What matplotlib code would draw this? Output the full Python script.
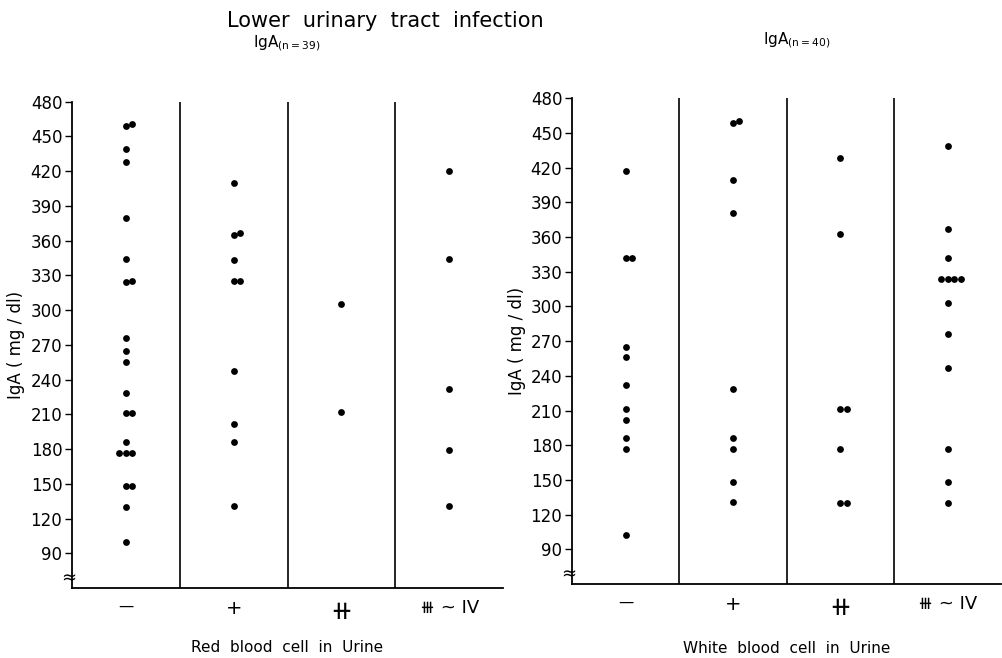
import numpy as np
import matplotlib
matplotlib.use('Agg')
import matplotlib.pyplot as plt

plt.rcParams['font.family'] = ['DejaVu Sans', 'Noto Sans']

CATEGORIES = ["\u2014", "+", "\u29FA", "\u29FB ~ IV"]
CATEGORY_SIZES = [11, 14, 19, 13]

# IgA (mg/dl) by red blood cell grade, n=39
RBC_NEG = [461, 459, 439, 428, 380, 344, 325, 324, 276, 265, 255, 228, 211, 211,
           186, 177, 177, 177, 148, 148, 130, 100]
RBC_1 = [410, 367, 365, 343, 325, 325, 247, 202, 186, 131]
RBC_2 = [305, 212]
RBC_3 = [420, 344, 232, 179, 131]

# IgA (mg/dl) by white blood cell grade, n=40
WBC_NEG = [417, 342, 342, 265, 256, 232, 211, 202, 186, 177, 102]
WBC_1 = [460, 459, 409, 381, 229, 186, 177, 148, 131]
WBC_2 = [428, 363, 211, 211, 177, 130, 130]
WBC_3 = [439, 367, 342, 324, 324, 324, 324, 303, 276, 247, 177, 148, 130]

Y_TICKS = list(range(90, 481, 30))


def spread(values, step=0.06):
    # put dots with (nearly) equal values side by side
    values = np.asarray(values, dtype=float)
    xs = np.zeros(len(values))
    groups = []
    for i in np.argsort(values, kind='stable'):
        if groups and values[i] - values[groups[-1][-1]] <= 3:
            groups[-1].append(i)
        else:
            groups.append([i])
    for g in groups:
        n = len(g)
        for k, i in enumerate(g):
            xs[i] = (k - (n - 1) // 2) * step
    return xs


def draw_panel(ax, groups, xlabel, label_y):
    for i, vals in enumerate(groups):
        ax.scatter(i + 0.5 + spread(vals), vals, s=24, color='black',
                   linewidths=0, zorder=3)
    for sep in (1, 2, 3):
        ax.axvline(sep, color='black', lw=1.2)
    ax.set_xlim(0, 4)
    ax.set_ylim(60, 480)
    ax.set_yticks(Y_TICKS)
    ax.set_xticks([0.5, 1.5, 2.5, 3.5])
    ax.set_xticklabels(CATEGORIES)
    for lab, size in zip(ax.get_xticklabels(), CATEGORY_SIZES):
        lab.set_fontsize(size)
    ax.tick_params(axis='x', length=0, pad=8)
    ax.tick_params(axis='y', length=5, width=1, labelsize=12, pad=2)
    for side in ('top', 'right'):
        ax.spines[side].set_visible(False)
    for side in ('left', 'bottom'):
        ax.spines[side].set_linewidth(1.3)
    ax.set_ylabel("IgA ( mg / dl)", fontsize=12)
    ax.yaxis.set_label_coords(-0.108, 0.5)
    ax.text(0.5, label_y, xlabel, transform=ax.transAxes, ha='center',
            va='center', fontsize=11)
    # axis break mark
    ax.text(-0.008, 0.02, "\u2248", transform=ax.transAxes, ha='center',
            va='center', fontsize=13)


fig = plt.figure(figsize=(10.03, 6.58), dpi=100)
ax1 = fig.add_axes([0.0718, 0.1064, 0.4297, 0.739])
ax2 = fig.add_axes([0.5703, 0.1125, 0.4280, 0.738])

draw_panel(ax1, [RBC_NEG, RBC_1, RBC_2, RBC_3],
           "Red  blood  cell  in  Urine", -0.123)
draw_panel(ax2, [WBC_NEG, WBC_1, WBC_2, WBC_3],
           "White  blood  cell  in  Urine", -0.132)

fig.text(0.384, 0.968, "Lower  urinary  tract  infection", ha='center',
         va='center', fontsize=15)
fig.text(0.252, 0.935, r"IgA$_{\mathregular{(n=39)}}$", ha='left',
         va='center', fontsize=11)
fig.text(0.761, 0.939, r"IgA$_{\mathregular{(n=40)}}$", ha='left',
         va='center', fontsize=11)

fig.savefig("out.png", dpi=100)
